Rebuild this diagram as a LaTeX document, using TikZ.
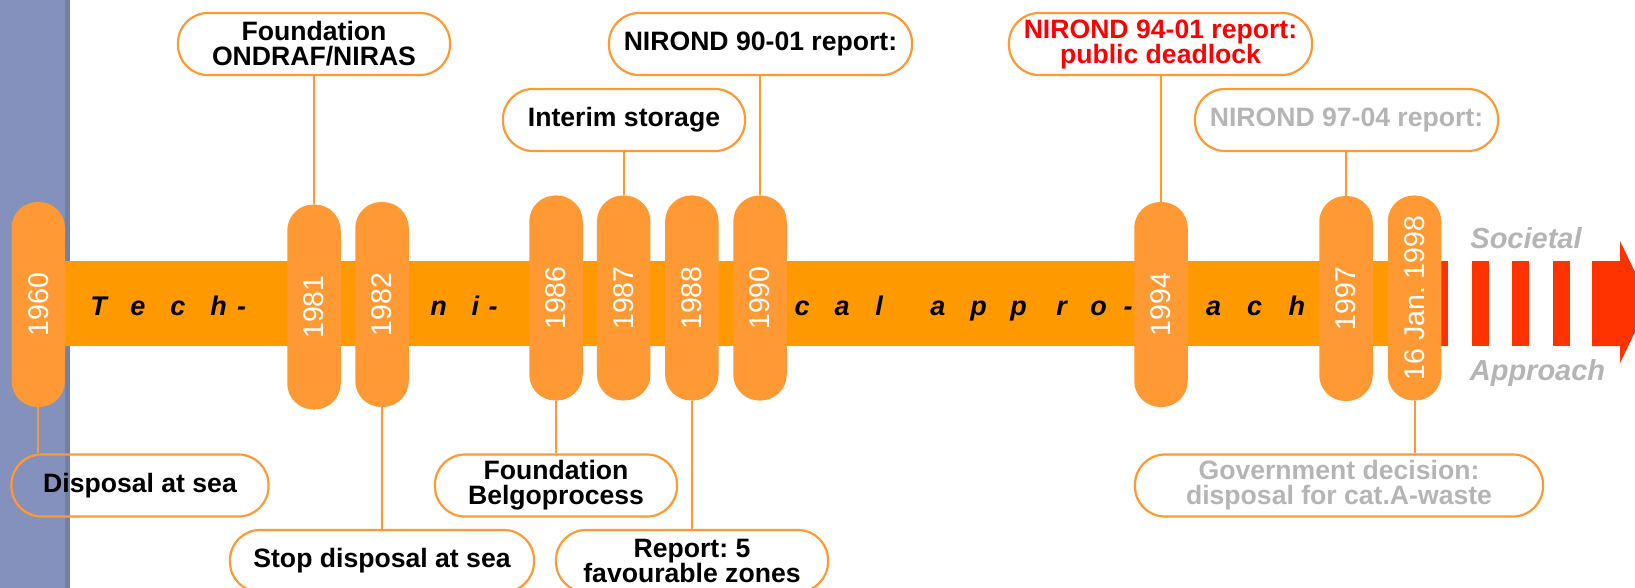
\documentclass[tikz,border=0pt]{standalone}
\usepackage{fontspec}
\setmainfont{Liberation Sans}
\frenchspacing
\definecolor{bandorange}{HTML}{FF9900}
\definecolor{pillorange}{HTML}{FF9933}
\definecolor{sideblue}{HTML}{8391BC}
\definecolor{stripered}{HTML}{FF3300}
\definecolor{fadegray}{HTML}{B5B5B5}
\newcommand{\boxfont}{\fontsize{26.6}{25}\selectfont\bfseries}
\newcommand{\yearfont}{\fontsize{28.5}{29}\selectfont}

\begin{document}
\begin{tikzpicture}[
    x=1pt, y=-1pt,
    pill/.style={rectangle, rounded corners=26pt, fill=pillorange, minimum width=53.5pt, minimum height=205pt, inner sep=0pt, text=white, font=\yearfont},
    event/.style={rectangle, rounded corners=30pt, draw=pillorange, line width=2.2pt, minimum height=62pt, inner sep=0pt, align=center, font=\boxfont},
    stem/.style={draw=pillorange, line width=2pt},
    tilt/.style={anchor=base west, inner sep=0pt, font={\fontsize{27}{27}\selectfont\bfseries\itshape}},
    side/.style={anchor=base, text=fadegray, font={\fontsize{29}{30}\selectfont\bfseries\itshape}},
]
    \useasboundingbox (0,0) rectangle (1635,588);
    % side bar and time band
    \fill[sideblue] (0,0) rectangle (70,588);
    \fill[sideblue!88!black] (65,0) rectangle (70,588);
    \fill[bandorange] (40,261) rectangle (1441,346);
    % broken arrow
    \foreach \x in {1431,1471.5,1512,1552.5}
        \fill[stripered] (\x,261) rectangle ++(17,85);
    \fill[stripered] (1592,261) -- (1620,261) -- (1620,241) -- (1635,272) -- (1635,332)
        -- (1620,363) -- (1620,346) -- (1592,346) -- cycle;
    % spaced band text, letter by letter
    \foreach \ch/\x [count=\i] in {T/91.7, e/131.7, c/171.7, h/211.7, -/238.3,
        n/431.7, i/473, -/490,
        c/796, a/836, l/876.7, a/931.7, p/971.7, p/1011.7, r/1057.7, o/1091.7, -/1125,
        a/1207.3, c/1248.3, h/1290}
        \node[tilt] (ch\i) at (\x-1.5,315) {\ch};
    \node[side] (societal) at (1526,248) {Societal};
    \node[side] (approach) at (1537.5,380) {Approach};
    % years
    \foreach \yr/\x/\y in {1960/38.3/304.5, 1981/314/307, 1982/382/304.5, 1986/556/298,
        1987/623.7/298, 1988/691.8/298, 1990/760/298, 1994/1161/304.5, 1997/1346/298.5}
        \node[pill] (y\yr) at (\x,\y) {\rotatebox{90}{\yr}};
    \node[pill] (y1998) at (1414.5,298) {\rotatebox{90}{16 Jan. 1998}};
    % events above
    \node[event, minimum width=272pt] (ondraf) at (314,44) {Foundation\\ONDRAF/NIRAS};
    \node[event, minimum width=242pt] (interim) at (624,120) {Interim storage};
    \node[event, minimum width=303pt] (nirond90) at (760.5,44) {NIROND 90-01 report:};
    \node[event, minimum width=303pt, text=red] (nirond94) at (1160.5,44) {NIROND 94-01 report:\\public deadlock};
    \node[event, minimum width=303pt, text=fadegray] (nirond97) at (1346.5,120) {NIROND 97-04 report:};
    % events below
    \node[event, minimum width=257pt] (disposal) at (140,485.5) {Disposal at sea};
    \node[event, minimum width=304pt] (stop) at (382,561) {Stop disposal at sea};
    \node[event, minimum width=242pt] (belgo) at (556,485.5) {Foundation\\Belgoprocess};
    \node[event, minimum width=272pt] (zones) at (692,561) {Report: 5\\favourable zones};
    \node[event, minimum width=408pt, text=fadegray] (decision) at (1339,485.5) {Government decision:\\disposal for cat.A-waste};
    % stems
    \draw[stem] (y1981.north) -- (y1981.north |- ondraf.south);
    \draw[stem] (y1987.north) -- (y1987.north |- interim.south);
    \draw[stem] (y1990.north) -- (y1990.north |- nirond90.south);
    \draw[stem] (y1994.north) -- (y1994.north |- nirond94.south);
    \draw[stem] (y1997.north) -- (y1997.north |- nirond97.south);
    \draw[stem] (y1960.south) -- (y1960.south |- disposal.north);
    \draw[stem] (y1982.south) -- (y1982.south |- stop.north);
    \draw[stem] (y1986.south) -- (y1986.south |- belgo.north);
    \draw[stem] (y1988.south) -- (y1988.south |- zones.north);
    \draw[stem] (y1998.south) -- (y1998.south |- decision.north);
\end{tikzpicture}
\end{document}
